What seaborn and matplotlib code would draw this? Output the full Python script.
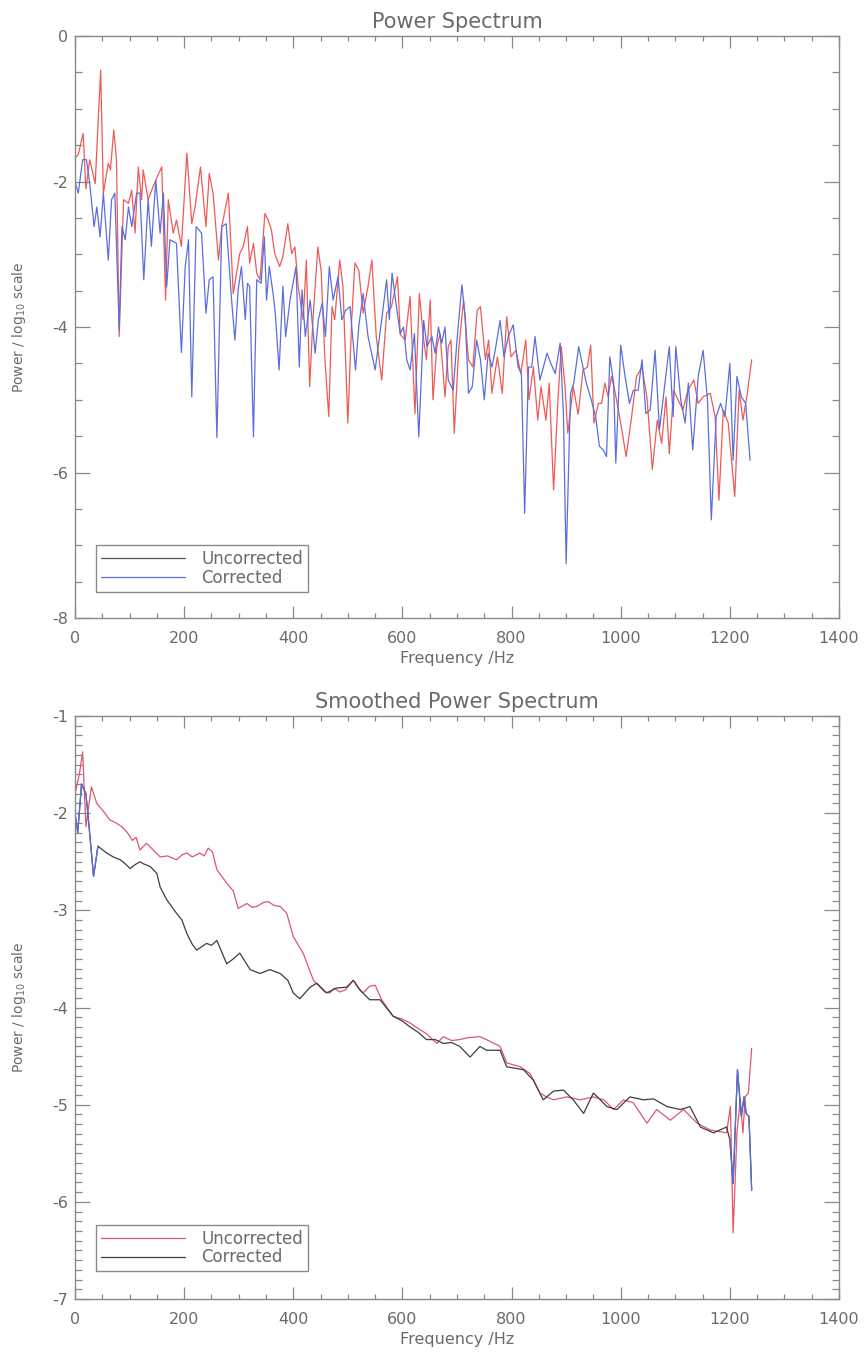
import numpy as np
import matplotlib
matplotlib.use("Agg")
import matplotlib.pyplot as plt
from matplotlib.lines import Line2D
from matplotlib.ticker import MultipleLocator
import seaborn as sns

# =========================
# data (frequency in Hz, power in log10)

raw_freq_unc = [0, 6, 15, 20, 27, 37, 47, 52, 61, 65, 71, 76, 81, 89, 98, 104, 110, 116, 122, 125,
                134, 143, 151, 159, 166, 171, 180, 186, 195, 205, 214, 220, 230, 240, 246, 253, 263, 269, 281, 290,
                302, 308, 316, 320, 327, 333, 339, 348, 354, 360, 366, 375, 381, 390, 397, 403, 409, 418, 424, 430,
                436, 445, 451, 458, 465, 471, 476, 485, 491, 500, 507, 513, 520, 528, 537, 544, 552, 562, 571, 580,
                591, 596, 605, 614, 623, 631, 639, 644, 651, 656, 663, 669, 678, 684, 689, 695, 703, 712, 721, 729,
                737, 743, 752, 758, 764, 774, 783, 791, 799, 808, 817, 826, 832, 840, 848, 854, 863, 869, 877, 885,
                891, 898, 903, 913, 922, 931, 939, 945, 951, 959, 965, 971, 977, 983, 989, 998, 1010, 1020, 1029, 1039,
                1048, 1058, 1067, 1075, 1083, 1089, 1097, 1105, 1114, 1123, 1134, 1142, 1151, 1164, 1173, 1180, 1188,
                1197, 1209, 1217, 1224, 1232, 1240]
raw_pow_unc = [-1.68, -1.63, -1.34, -2.10, -1.70, -2.03, -0.47, -2.16, -1.75, -1.84, -1.29, -1.70, -4.13, -2.25,
               -2.30, -2.12, -2.71, -1.80, -2.25, -1.84, -2.25, -2.07, -1.93, -1.80, -3.63, -2.25, -2.71, -2.53,
               -2.89, -1.61, -2.58, -2.35, -1.80, -2.62, -1.89, -2.16, -3.08, -2.62, -2.16, -3.54,
               -2.99, -2.90, -2.62, -3.12, -2.85, -3.26, -3.35, -2.44, -2.53, -2.67, -2.99, -3.17, -3.03, -2.58,
               -2.99, -2.90, -3.44, -3.90, -3.08, -4.82, -3.90, -2.90, -3.22, -4.45, -5.23, -3.72, -3.90, -3.08,
               -3.44, -5.32, -3.90, -3.12, -3.22, -3.81, -3.44, -3.08, -4.13, -4.73, -3.81, -3.72,
               -3.31, -4.10, -4.18, -3.58, -5.19, -3.54, -4.18, -4.45, -3.63, -5.00, -4.27, -4.09, -4.96, -4.27,
               -4.18, -5.46, -4.32, -3.63, -4.45, -4.55, -3.77, -3.72, -4.45, -4.18, -4.91, -4.41, -4.91, -3.86,
               -4.41, -4.32, -4.64, -4.18, -5.00, -4.55, -5.28, -4.82, -5.28, -4.77, -6.24, -5.00,
               -4.27, -4.82, -5.46, -4.82, -5.20, -4.59, -4.55, -4.25, -5.32, -5.05, -5.05, -4.77, -4.96, -4.68,
               -4.87, -5.23, -5.78, -5.23, -4.68, -4.55, -4.96, -5.96, -5.28, -5.60, -4.96, -5.74, -4.87, -5.00,
               -5.14, -4.87, -4.73, -5.05, -4.96, -4.91, -5.23, -6.38, -5.14, -5.32, -6.33, -4.87, -5.28, -4.91, -4.45]

raw_freq_cor = [0, 6, 14, 21, 27, 35, 40, 46, 52, 61, 67, 73, 81, 86, 92, 98, 104, 113, 119, 126,
                134, 140, 148, 156, 162, 168, 174, 186, 195, 202, 208, 214, 222, 232, 240, 246, 253, 260, 269, 277,
                287, 293, 299, 305, 312, 316, 320, 327, 333, 341, 347, 351, 356, 363, 367, 374, 381, 386, 394, 405,
                411, 416, 422, 431, 440, 446, 453, 459, 466, 473, 482, 489, 496, 504, 514, 520, 528, 537, 550, 562,
                571, 576, 581, 589, 596, 602, 608, 614, 622, 630, 639, 645, 654, 660, 666, 672, 678, 684, 693, 700,
                709, 715, 721, 728, 736, 743, 750, 757, 764, 770, 779, 786, 794, 803, 812, 818, 824, 831, 837, 843,
                852, 865, 872, 880, 889, 895, 900, 908, 914, 923, 937, 946, 954, 961, 968, 974, 980, 987, 991, 1000,
                1008, 1016, 1023, 1032, 1039, 1046, 1054, 1063, 1071, 1081, 1089, 1096, 1101, 1110, 1118, 1124, 1132,
                1142, 1151, 1159, 1166, 1175, 1183, 1191, 1200, 1206, 1213, 1221, 1229, 1237]
raw_pow_cor = [-2.00, -2.16, -1.70, -1.70, -2.03, -2.62, -2.35, -2.76, -2.16, -3.08, -2.25, -2.16, -4.04, -2.62,
               -2.80, -2.35, -2.62, -2.16, -2.16, -3.35, -2.25, -2.89, -1.98, -2.71, -2.16, -3.45, -2.80, -2.85,
               -4.35, -3.17, -2.80, -4.96, -2.62, -2.71, -3.81, -3.35, -3.31, -5.52, -2.62, -2.58,
               -3.63, -4.18, -3.49, -3.17, -3.90, -3.40, -3.44, -5.51, -3.35, -3.40, -2.76, -3.63, -3.17, -3.54,
               -3.81, -4.59, -3.44, -4.13, -3.63, -3.17, -4.55, -3.49, -4.13, -3.63, -4.36, -3.90, -3.67, -4.13,
               -3.17, -3.63, -3.31, -3.90, -3.77, -3.72, -4.59, -3.99, -3.54, -4.13, -4.59, -3.90,
               -3.35, -3.90, -3.26, -3.72, -4.09, -4.00, -4.45, -4.59, -4.09, -5.51, -3.91, -4.27, -4.13, -4.36,
               -4.00, -4.22, -4.00, -4.73, -4.87, -4.18, -3.42, -3.86, -4.91, -4.82, -4.18, -4.45, -5.00, -4.36,
               -4.55, -4.32, -3.91, -4.41, -4.13, -3.97, -4.55, -4.64, -6.56, -4.55, -4.55, -4.13,
               -4.73, -4.36, -4.50, -4.64, -4.22, -5.19, -7.25, -4.91, -4.77, -4.27, -4.77, -5.00, -5.23, -5.64,
               -5.69, -5.78, -4.41, -4.77, -5.87, -4.25, -4.68, -5.05, -4.87, -4.87, -4.45, -5.19, -5.14, -4.32,
               -5.41, -4.77, -4.27, -5.23, -4.27, -5.00, -5.32, -4.77, -5.69, -4.68, -4.32, -5.00, -6.65, -5.23,
               -5.05, -5.23, -4.50, -5.83, -4.68, -4.96, -5.05, -5.83]

smooth_freq_unc = [0, 8, 14, 20, 30, 40, 52, 64, 75, 86, 96, 105, 112, 119, 131, 140, 156, 170, 186, 196, 205,
                   215, 229, 237, 244, 252, 260, 278, 290, 299, 315, 325, 333, 345, 354, 365, 376, 388, 400, 418, 437,
                   449, 458, 467, 475, 485, 495, 510, 520, 528, 540, 550, 562, 583, 600, 614, 630, 644, 663, 675, 690,
                   705, 720, 742, 754, 779, 791, 816, 834, 852, 864, 877, 901, 926, 950, 969, 987, 1005, 1023, 1048,
                   1066, 1091, 1115, 1140, 1164, 1194, 1201, 1206, 1213, 1219, 1224, 1228, 1234, 1240]
smooth_pow_unc = [-1.80, -1.60, -1.37, -2.14, -1.73, -1.90, -1.98, -2.07, -2.10, -2.14, -2.20, -2.28, -2.25,
                  -2.38, -2.31, -2.36, -2.45, -2.44, -2.48, -2.43, -2.41, -2.45, -2.41, -2.44, -2.36, -2.40, -2.58,
                  -2.72, -2.80, -2.98, -2.93, -2.97, -2.96, -2.92, -2.91, -2.95, -2.96, -3.03, -3.27, -3.44, -3.72,
                  -3.79, -3.84, -3.85, -3.80, -3.84, -3.82, -3.72, -3.80, -3.85, -3.78, -3.77, -3.92, -4.09, -4.12,
                  -4.16, -4.22, -4.27, -4.37, -4.30, -4.34, -4.33, -4.31, -4.30, -4.33, -4.40, -4.57, -4.61, -4.68,
                  -4.88, -4.92, -4.95, -4.92, -4.95, -4.92, -4.95, -5.05, -4.95, -4.98, -5.19, -5.05, -5.16, -5.05,
                  -5.19, -5.26, -5.29, -5.02, -6.32, -5.29, -4.95, -5.29, -4.92, -4.88, -4.42]

smooth_freq_cor = [0, 5, 12, 20, 26, 34, 42, 58, 70, 83, 92, 101, 110, 119, 125, 138, 150, 156, 168, 186, 196,
                   205, 215, 223, 241, 250, 260, 278, 290, 302, 321, 339, 357, 376, 390, 400, 412, 431, 443, 461, 479,
                   498, 510, 522, 540, 559, 583, 600, 614, 630, 644, 660, 675, 690, 705, 724, 742, 754, 779, 791, 822,
                   840, 858, 877, 895, 913, 932, 950, 975, 993, 1017, 1042, 1060, 1085, 1109, 1127, 1146, 1170, 1194,
                   1200, 1206, 1214, 1221, 1226, 1230, 1235, 1240]
smooth_pow_cor = [-2.00, -2.20, -1.70, -1.80, -2.15, -2.65, -2.34, -2.41, -2.45, -2.48, -2.52, -2.57, -2.53,
                  -2.50, -2.52, -2.55, -2.62, -2.76, -2.89, -3.03, -3.10, -3.24, -3.35, -3.41, -3.34, -3.36, -3.31,
                  -3.55, -3.50, -3.44, -3.61, -3.65, -3.61, -3.65, -3.72, -3.85, -3.91, -3.79, -3.75, -3.85, -3.80,
                  -3.79, -3.72, -3.82, -3.92, -3.92, -4.09, -4.14, -4.20, -4.26, -4.33, -4.33, -4.37, -4.36, -4.40,
                  -4.51, -4.40, -4.44, -4.44, -4.61, -4.64, -4.75, -4.95, -4.86, -4.85, -4.95, -5.09, -4.88, -5.02,
                  -5.05, -4.92, -4.95, -4.94, -5.02, -5.05, -5.02, -5.23, -5.29, -5.23, -5.36, -5.81, -4.64, -5.12,
                  -4.92, -5.09, -5.12, -5.88]

# =========================
# style

sns.set_style("white")
plt.rcParams["font.family"] = ["DejaVu Sans"]
plt.rcParams["axes.unicode_minus"] = False

RED = "#ee5a55"
BLUE = "#5a6edc"
PINK = "#de5670"
DARK = "#3e3e3e"
GREY = "#6a6a6a"
AXCOL = "#8a8a8a"


def style_axes(ax, ymin, ymax, ymajor, yminor, title):
    ax.set_xlim(0, 1400)
    ax.set_ylim(ymin, ymax)
    ax.xaxis.set_major_locator(MultipleLocator(200))
    ax.xaxis.set_minor_locator(MultipleLocator(50))
    ax.yaxis.set_major_locator(MultipleLocator(ymajor))
    ax.yaxis.set_minor_locator(MultipleLocator(yminor))
    ax.tick_params(which="both", direction="in", bottom=True, left=True, top=True, right=True,
                   colors=AXCOL, labelcolor=GREY, labelsize=11.5, width=0.9)
    ax.tick_params(axis="x", which="major", length=8.5, pad=9)
    ax.tick_params(axis="x", which="minor", length=3.5)
    ax.tick_params(axis="y", which="major", length=11, pad=5)
    ax.tick_params(axis="y", which="minor", length=5)
    for sp in ax.spines.values():
        sp.set_color(AXCOL)
        sp.set_linewidth(1.0)
    ax.set_xlabel("Frequency /Hz", color=GREY, fontsize=11.5)
    ax.set_ylabel("Power / log$_{10}$ scale", color=GREY, fontsize=10)
    ax.xaxis.set_label_coords(0.5, -0.056)
    ax.yaxis.set_label_coords(-0.062, 0.5)
    ax.set_title(title, color=GREY, fontsize=15, pad=6)


fig = plt.figure(figsize=(8.67, 13.53), dpi=100)
ax1 = fig.add_axes([0.0865, 0.5432, 0.8812, 0.4302])
ax2 = fig.add_axes([0.0865, 0.0399, 0.8812, 0.4309])

# top: raw spectrum
sns.lineplot(x=raw_freq_unc, y=raw_pow_unc, ax=ax1, color=RED, linewidth=0.9, estimator=None, sort=False)
sns.lineplot(x=raw_freq_cor, y=raw_pow_cor, ax=ax1, color=BLUE, linewidth=0.9, estimator=None, sort=False)
style_axes(ax1, -8, 0, 2, 0.5, "Power Spectrum")

# bottom: smoothed spectrum (edges of corrected curve left unsmoothed, drawn blue)
sns.lineplot(x=smooth_freq_unc, y=smooth_pow_unc, ax=ax2, color=PINK, linewidth=0.9, estimator=None, sort=False)
sns.lineplot(x=smooth_freq_cor, y=smooth_pow_cor, ax=ax2, color=DARK, linewidth=0.9, estimator=None, sort=False)
fc = np.array(smooth_freq_cor)
pc = np.array(smooth_pow_cor)
lo = fc <= 42
hi = fc >= 1200
sns.lineplot(x=fc[lo], y=pc[lo], ax=ax2, color=BLUE, linewidth=0.9, estimator=None, sort=False)
sns.lineplot(x=fc[hi], y=pc[hi], ax=ax2, color=BLUE, linewidth=0.9, estimator=None, sort=False)
style_axes(ax2, -7, -1, 1, 0.1, "Smoothed Power Spectrum")

# legends
leg_kw = dict(loc="lower left", bbox_to_anchor=(0.017, 0.031), fontsize=12, fancybox=False,
              handlelength=5.0, handletextpad=1.0, borderpad=0.3, labelspacing=0.05,
              labelcolor=GREY, framealpha=1)
h1 = [Line2D([], [], color="#555555", lw=0.9), Line2D([], [], color=BLUE, lw=0.9)]
lg1 = ax1.legend(h1, ["Uncorrected", "Corrected"], **leg_kw)
lg1.get_frame().set_edgecolor(AXCOL)
lg1.get_frame().set_linewidth(1.0)

leg_kw["bbox_to_anchor"] = (0.017, 0.033)
h2 = [Line2D([], [], color=PINK, lw=0.9), Line2D([], [], color=DARK, lw=0.9)]
lg2 = ax2.legend(h2, ["Uncorrected", "Corrected"], **leg_kw)
lg2.get_frame().set_edgecolor(AXCOL)
lg2.get_frame().set_linewidth(1.0)

fig.savefig("out.png", dpi=100, facecolor="white")
